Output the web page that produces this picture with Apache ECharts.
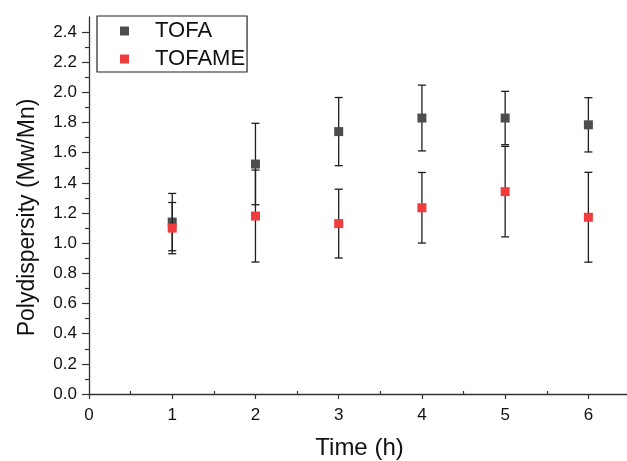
<!DOCTYPE html>
<html>
<head>
<meta charset="utf-8">
<script src="https://cdn.jsdelivr.net/npm/echarts@6/dist/echarts.min.js"></script>
<style>html,body{margin:0;padding:0;background:#fff;}#c{width:627px;height:461px;}</style>
</head>
<body>
<div id="c"></div>
<script>
var times = [1, 2, 3, 4, 5, 6];
var tofaMean = [1.14, 1.525, 1.74, 1.83, 1.83, 1.785];
var tofaErr  = [0.19, 0.27, 0.226, 0.218, 0.177, 0.18];
var tofameMean = [1.10, 1.18, 1.13, 1.235, 1.342, 1.172];
var tofameErr  = [0.17, 0.305, 0.228, 0.234, 0.30, 0.298];
var xMajorTicks = [0, 1, 2, 3, 4, 5, 6];
var xMinorTicks = [0.5, 1.5, 2.5, 3.5, 4.5, 5.5];
var yMajorTicks = [0, 0.2, 0.4, 0.6, 0.8, 1.0, 1.2, 1.4, 1.6, 1.8, 2.0, 2.2, 2.4];
var yMinorTicks = [0.1, 0.3, 0.5, 0.7, 0.9, 1.1, 1.3, 1.5, 1.7, 1.9, 2.1, 2.3];

var FONT = '"Liberation Sans", Arial, sans-serif';
var chart = echarts.init(document.getElementById('c'), null, {renderer: 'canvas'});

function errData(means, errs) {
  return times.map(function (t, i) { return [t, means[i] - errs[i], means[i] + errs[i]]; });
}
function errRender(params, api) {
  var x = api.value(0);
  var lo = api.coord([x, api.value(1)]);
  var hi = api.coord([x, api.value(2)]);
  var hw = 4;
  var st = {stroke: '#1e1e1e', lineWidth: 1.3};
  return {
    type: 'group',
    children: [
      {type: 'line', shape: {x1: lo[0], y1: lo[1], x2: hi[0], y2: hi[1]}, style: st},
      {type: 'line', shape: {x1: lo[0] - hw, y1: lo[1], x2: lo[0] + hw, y2: lo[1]}, style: st},
      {type: 'line', shape: {x1: hi[0] - hw, y1: hi[1], x2: hi[0] + hw, y2: hi[1]}, style: st}
    ]
  };
}

var axisColor = '#333';
chart.setOption({
  animation: false,
  backgroundColor: '#fff',
  grid: {left: 89, right: -3, top: 17, bottom: 67, containLabel: false, outerBoundsMode: 'none'},
  legend: {
    orient: 'vertical',
    left: 97, top: 16,
    padding: [4, 2, 2, 23],
    itemGap: 6,
    itemWidth: 9, itemHeight: 9,
    borderColor: '#222', borderWidth: 1.2,
    icon: 'rect',
    textStyle: {fontFamily: FONT, fontSize: 22, color: '#111', padding: [0, 0, 0, 21]},
    data: ['TOFA', 'TOFAME']
  },
  xAxis: [{
    type: 'value', min: 0, max: 6.5,
    name: 'Time (h)', nameLocation: 'middle', nameGap: 42,
    nameTextStyle: {fontFamily: FONT, fontSize: 24, color: '#111'},
    axisLine: {show: true, lineStyle: {color: axisColor, width: 1.3}},
    axisTick: {show: true, length: 5, customValues: xMajorTicks, lineStyle: {color: axisColor, width: 1.2}},
    axisLabel: {customValues: xMajorTicks, fontFamily: FONT, fontSize: 17, color: '#111', margin: 13},
    splitLine: {show: false}
  }, {
    type: 'value', min: 0, max: 6.5, position: 'bottom',
    axisLine: {show: false},
    axisTick: {show: true, inside: true, length: 3, customValues: xMinorTicks, lineStyle: {color: axisColor, width: 1.2}},
    axisLabel: {show: false},
    splitLine: {show: false}
  }],
  yAxis: [{
    type: 'value', min: 0, max: 2.5,
    name: 'Polydispersity (Mw/Mn)', nameLocation: 'middle', nameGap: 50,
    nameTextStyle: {fontFamily: FONT, fontSize: 23, color: '#111', padding: [0, 24, 0, 0]},
    axisLine: {show: true, lineStyle: {color: axisColor, width: 1.3}},
    axisTick: {show: true, length: 7, customValues: yMajorTicks, lineStyle: {color: axisColor, width: 1.2}},
    axisLabel: {customValues: yMajorTicks, fontFamily: FONT, fontSize: 17, color: '#111', margin: 12,
      formatter: function (v) { return v.toFixed(1); }},
    splitLine: {show: false}
  }, {
    type: 'value', min: 0, max: 2.5, position: 'left',
    axisLine: {show: false},
    axisTick: {show: true, length: 4, customValues: yMinorTicks, lineStyle: {color: axisColor, width: 1.2}},
    axisLabel: {show: false},
    splitLine: {show: false}
  }],
  series: [
    {type: 'custom', name: 'TOFA', renderItem: errRender, data: errData(tofaMean, tofaErr), z: 1,
      itemStyle: {color: '#4d4d4d'}},
    {type: 'scatter', name: 'TOFA', symbol: 'rect', symbolSize: 9, z: 2,
      itemStyle: {color: '#4d4d4d', opacity: 1},
      data: times.map(function (t, i) { return [t, tofaMean[i]]; })},
    {type: 'custom', name: 'TOFAME', renderItem: errRender, data: errData(tofameMean, tofameErr), z: 3,
      itemStyle: {color: '#f03c3c'}},
    {type: 'scatter', name: 'TOFAME', symbol: 'rect', symbolSize: 9, z: 4,
      itemStyle: {color: '#f03c3c', opacity: 1},
      data: times.map(function (t, i) { return [t, tofameMean[i]]; })}
  ]
});
</script>
</body>
</html>
